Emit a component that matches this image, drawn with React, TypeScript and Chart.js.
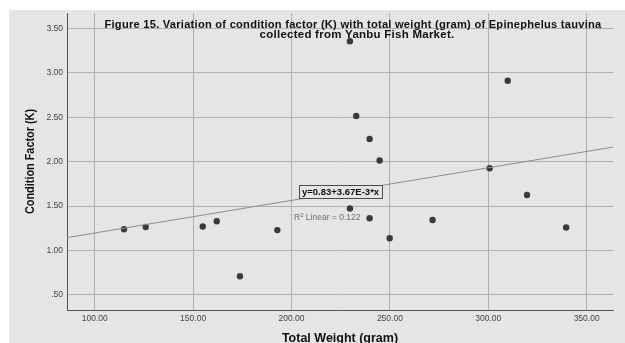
import React, { useEffect, useRef } from "react";
import { Chart, registerables } from "chart.js";

Chart.register(...registerables);

// ---- data ----
const weights = [114.9, 125.9, 154.9, 162.0, 173.8, 192.8, 229.7, 229.7, 232.9, 239.7, 239.7, 244.8, 249.9, 271.7, 300.7, 309.9, 319.7, 339.6];
const kValues = [1.24, 1.265, 1.27, 1.33, 0.71, 1.23, 3.354, 1.472, 2.514, 2.255, 1.363, 2.012, 1.138, 1.344, 1.926, 2.91, 1.625, 1.259];
const xTicks = [100, 150, 200, 250, 300, 350];
const yTicks = [0.5, 1.0, 1.5, 2.0, 2.5, 3.0, 3.5];
const xRange = [85.9, 363.4];
const yRange = [0.331, 3.672];
const intercept = 0.83;
const slope = 0.00367;
const eqLabel = "y=0.83+3.67E-3*x";
const r2Value = "0.122";
const eqAnchorX = 245.8;
const titleLines = [
  "Figure 15. Variation of condition factor (K) with total weight (gram) of Epinephelus tauvina",
  "collected from Yanbu Fish Market.",
];
const xTitle = "Total Weight (gram)";
const yTitle = "Condition Factor (K)";

const FONT = '"Liberation Sans", Arial, Helvetica, sans-serif';
const BG = "#e5e5e5";

const decorPlugin = {
  id: "decor",
  beforeDraw(chart: any) {
    const { ctx, width, height } = chart;
    ctx.save();
    ctx.fillStyle = "#ffffff";
    ctx.fillRect(0, 0, width, height);
    ctx.fillStyle = BG;
    ctx.fillRect(9, 10, width - 9, height - 10);
    ctx.restore();
  },
  afterDatasetsDraw(chart: any) {
    const { ctx, chartArea } = chart;
    const xs = chart.scales.x;
    const ys = chart.scales.y;
    ctx.save();
    // equation box anchored on the fit line
    const rx = xs.getPixelForValue(eqAnchorX);
    const ry = ys.getPixelForValue(intercept + slope * eqAnchorX);
    ctx.font = `bold 9.5px ${FONT}`;
    const tw = ctx.measureText(eqLabel).width;
    const bw = Math.round(tw + 6);
    const bh = 13;
    const bx = Math.round(rx - bw);
    const by = Math.round(ry);
    ctx.fillStyle = BG;
    ctx.fillRect(bx, by, bw, bh);
    ctx.strokeStyle = "#4a4a4a";
    ctx.lineWidth = 1;
    ctx.strokeRect(bx + 0.5, by + 0.5, bw, bh);
    ctx.fillStyle = "#111111";
    ctx.textBaseline = "middle";
    ctx.textAlign = "left";
    ctx.fillText(eqLabel, bx + 3, by + bh / 2 + 1);

    // R² label
    let tx = bx - 5;
    const ty = by + bh + 20;
    ctx.fillStyle = "#6e6e6e";
    ctx.font = `8.5px ${FONT}`;
    ctx.fillText("R", tx, ty);
    tx += ctx.measureText("R").width;
    ctx.font = `6px ${FONT}`;
    ctx.fillText("2", tx, ty - 3);
    tx += ctx.measureText("2").width;
    ctx.font = `8.5px ${FONT}`;
    ctx.fillText(" Linear = " + r2Value, tx, ty);

    // title
    ctx.fillStyle = "#111111";
    ctx.textAlign = "center";
    ctx.textBaseline = "alphabetic";
    ctx.font = `bold 11.5px ${FONT}`;
    try { (ctx as any).letterSpacing = "0.25px"; } catch (e) {}
    ctx.fillText(titleLines[0], 353, 28, 497);
    ctx.fillText(titleLines[1], 357, 38, 200);
    try { (ctx as any).letterSpacing = "0px"; } catch (e) {}

    // axis titles
    ctx.font = `bold 12.5px ${FONT}`;
    ctx.fillText(xTitle, (chartArea.left + chartArea.right) / 2, 341.5, 117);
    ctx.save();
    ctx.translate(34, (chartArea.top + chartArea.bottom) / 2);
    ctx.rotate(-Math.PI / 2);
    ctx.fillText(yTitle, 0, 0, 105);
    ctx.restore();
    ctx.restore();
  },
};

export default function App() {
  const ref = useRef<HTMLCanvasElement | null>(null);
  useEffect(() => {
    if (!ref.current) return;
    const points = weights.map((w, i) => ({ x: w, y: kValues[i] }));
    const fit = [
      { x: xRange[0], y: intercept + slope * xRange[0] },
      { x: xRange[1], y: intercept + slope * xRange[1] },
    ];
    const chart = new Chart(ref.current, {
      type: "scatter",
      data: {
        datasets: [
          {
            type: "line",
            data: fit,
            borderColor: "#8c8c8c",
            borderWidth: 1,
            pointRadius: 0,
            fill: false,
          } as any,
          {
            data: points,
            backgroundColor: "#3a3a3a",
            borderWidth: 0,
            pointRadius: 3.2,
          },
        ],
      },
      options: {
        responsive: false,
        animation: false,
        layout: { padding: { top: 13, right: 12, left: 0, bottom: 0 } },
        plugins: { legend: { display: false }, tooltip: { enabled: false }, title: { display: false } },
        scales: {
          x: {
            type: "linear",
            min: xRange[0],
            max: xRange[1],
            afterBuildTicks: (s: any) => {
              s.ticks = xTicks.map((v) => ({ value: v }));
            },
            afterFit: (s: any) => {
              s.height = 33;
            },
            grid: { color: "#b0b0b0", lineWidth: 1, drawTicks: false },
            border: { display: true, color: "#555555", width: 1 },
            ticks: {
              padding: 4,
              color: "#444444",
              font: { size: 8.5, family: FONT },
              maxRotation: 0,
              callback: (v: any) => Number(v).toFixed(2),
            },
          },
          y: {
            type: "linear",
            min: yRange[0],
            max: yRange[1],
            afterBuildTicks: (s: any) => {
              s.ticks = yTicks.map((v) => ({ value: v }));
            },
            afterFit: (s: any) => {
              s.width = 67;
            },
            grid: { color: "#b0b0b0", lineWidth: 1, drawTicks: false },
            border: { display: true, color: "#555555", width: 1 },
            ticks: {
              padding: 4,
              color: "#444444",
              font: { size: 8.5, family: FONT },
              callback: (v: any) => Number(v).toFixed(2).replace(/^0\./, "."),
            },
          },
        },
      },
      plugins: [decorPlugin],
    });
    return () => chart.destroy();
  }, []);
  return (
    <div style={{ position: "absolute", left: 0, top: 0, width: 625, height: 343 }}>
      <canvas ref={ref} width={625} height={343} style={{ display: "block" }} />
    </div>
  );
}
